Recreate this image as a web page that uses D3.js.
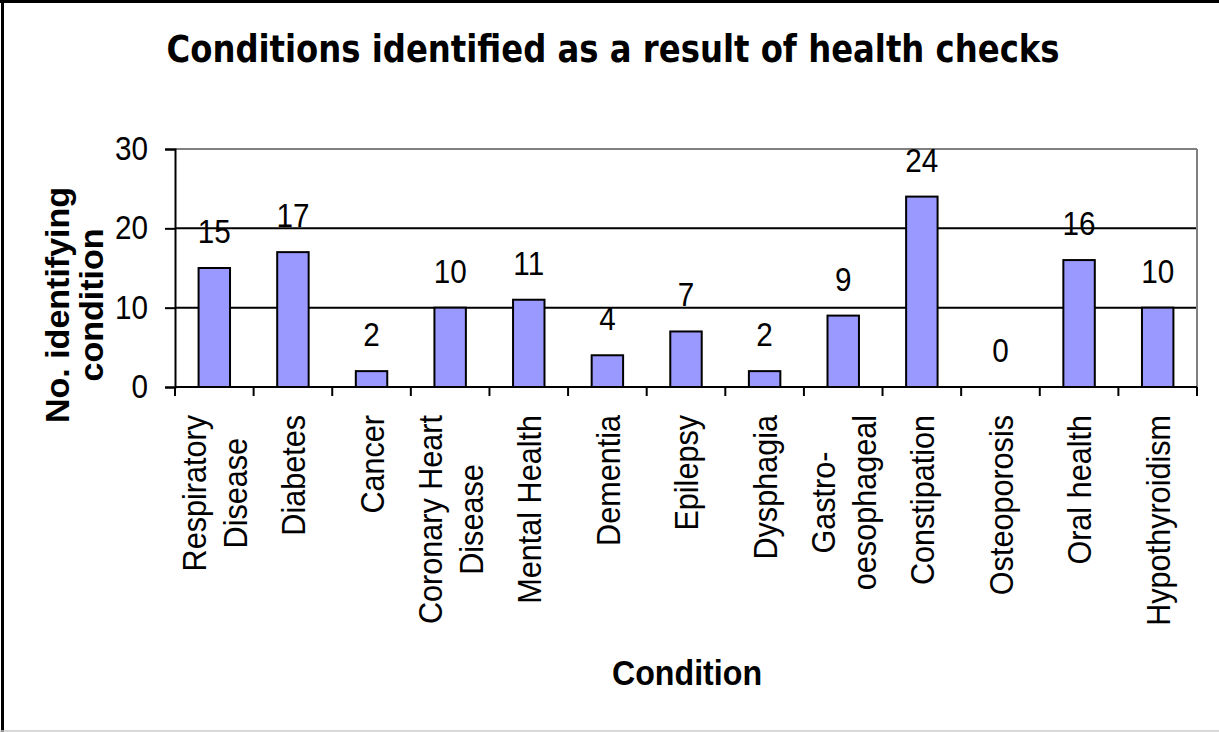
<!DOCTYPE html>
<html>
<head>
<meta charset="utf-8">
<script src="https://cdn.jsdelivr.net/npm/d3@7"></script>
<style>
  body { margin: 0; background: #fff; }
  svg { display: block; }
  text { font-family: "Liberation Sans", Arial, sans-serif; fill: #000; }
</style>
</head>
<body>
<svg id="chart" width="1219" height="732"></svg>
<script>
// health check conditions
var categories = ['Respiratory Disease', 'Diabetes', 'Cancer', 'Coronary Heart Disease',
  'Mental Health', 'Dementia', 'Epilepsy', 'Dysphagia', 'Gastro- oesophageal',
  'Constipation', 'Osteoporosis', 'Oral health', 'Hypothyroidism'];
var counts = [15, 17, 2, 10, 11, 4, 7, 2, 9, 24, 0, 16, 10];
// how the long names wrap under the axis
var labelLines = [['Respiratory', 'Disease'], ['Diabetes'], ['Cancer'], ['Coronary Heart', 'Disease'],
  ['Mental Health'], ['Dementia'], ['Epilepsy'], ['Dysphagia'], ['Gastro-', 'oesophageal'],
  ['Constipation'], ['Osteoporosis'], ['Oral health'], ['Hypothyroidism']];
var yTicks = [0, 10, 20, 30];

var svg = d3.select('#chart');

var plot = {left: 175, right: 1197, top: 149, bottom: 387};
var squeeze = 0.9; // excel font looks a bit narrower than liberation sans

var x = d3.scaleBand()
  .domain(categories)
  .range([plot.left, plot.right])
  .paddingInner(0.6)
  .paddingOuter(0.3);

var y = d3.scaleLinear()
  .domain([0, 30])
  .range([plot.bottom, plot.top]);

// outer frame (left + top black, bottom light grey)
svg.append('line').attr('x1', 2.5).attr('x2', 2.5).attr('y1', 0).attr('y2', 732)
  .attr('stroke', '#000').attr('stroke-width', 3);
svg.append('line').attr('x1', 0).attr('x2', 1219).attr('y1', 1.5).attr('y2', 1.5)
  .attr('stroke', '#000').attr('stroke-width', 3);
svg.append('line').attr('x1', 0).attr('x2', 1219).attr('y1', 731).attr('y2', 731)
  .attr('stroke', '#ccc').attr('stroke-width', 1.5);

// title
svg.append('text')
  .attr('x', 613).attr('y', 62)
  .attr('text-anchor', 'middle')
  .attr('font-size', '37px')
  .attr('font-weight', 'bold')
  .style('font-family', '"DejaVu Sans", sans-serif')
  .attr('textLength', 893)
  .attr('lengthAdjust', 'spacingAndGlyphs')
  .text('Conditions identified as a result of health checks');

// gridlines
svg.append('g').selectAll('line')
  .data(yTicks.filter(function(d) { return d > 0; }))
  .join('line')
  .attr('x1', plot.left).attr('x2', plot.right)
  .attr('y1', function(d) { return y(d); })
  .attr('y2', function(d) { return y(d); })
  .attr('stroke', function(d) { return d == 30 ? '#808080' : '#000'; })
  .attr('stroke-width', 2);

// right edge of plot area
svg.append('line')
  .attr('x1', plot.right).attr('x2', plot.right)
  .attr('y1', plot.top).attr('y2', plot.bottom)
  .attr('stroke', '#808080').attr('stroke-width', 2);

// bars
svg.append('g').selectAll('rect')
  .data(counts)
  .join('rect')
  .attr('x', function(d, i) { return x(categories[i]); })
  .attr('width', x.bandwidth())
  .attr('y', function(d) { return y(d); })
  .attr('height', function(d) { return y(0) - y(d); })
  .attr('fill', '#9999ff')
  .attr('stroke', '#000')
  .attr('stroke-width', 2);

// value labels
svg.append('g').selectAll('text')
  .data(counts)
  .join('text')
  .attr('transform', function(d, i) {
    return 'translate(' + (x(categories[i]) + x.bandwidth() / 2) + ',' + (y(d) - 25) + ') scale(' + squeeze + ',1)';
  })
  .attr('text-anchor', 'middle')
  .attr('font-size', '33px')
  .text(function(d) { return d; });

// y axis
var yAxis = svg.append('g')
  .attr('transform', 'translate(' + plot.left + ',0)')
  .call(d3.axisLeft(y).tickValues(yTicks).tickSize(10).tickPadding(17).tickFormat(d3.format('d')));
yAxis.select('.domain').attr('stroke', '#000').attr('stroke-width', 2);
yAxis.selectAll('.tick line').attr('stroke', '#000').attr('stroke-width', 2);
yAxis.selectAll('.tick text')
  .attr('font-size', '33px')
  .attr('x', -27 / squeeze)
  .attr('transform', 'scale(' + squeeze + ',1)')
  .style('font-family', '"Liberation Sans", Arial, sans-serif');

// x axis line + ticks at category boundaries
svg.append('line')
  .attr('x1', plot.left).attr('x2', plot.right)
  .attr('y1', plot.bottom).attr('y2', plot.bottom)
  .attr('stroke', '#000').attr('stroke-width', 2);

var bounds = categories.map(function(c) { return x(c) - x.step() * 0.3; });
bounds.push(plot.right);
svg.append('g').selectAll('line')
  .data(bounds)
  .join('line')
  .attr('x1', function(d) { return d; }).attr('x2', function(d) { return d; })
  .attr('y1', plot.bottom).attr('y2', plot.bottom + 9)
  .attr('stroke', '#000').attr('stroke-width', 2);

// category labels, rotated, top aligned, lines centred on each other
var lineGap = 41;
labelLines.forEach(function(lines, i) {
  var cx = x(categories[i]) + x.bandwidth() / 2;
  var g = svg.append('g').attr('transform', 'translate(' + cx + ',415) rotate(-90) scale(' + squeeze + ',1)');
  var t = g.selectAll('text')
    .data(lines)
    .join('text')
    .attr('y', function(d, j) { return (j - (lines.length - 1) / 2) * lineGap; })
    .attr('dy', '0.36em')
    .attr('font-size', '34px')
    .attr('text-anchor', 'middle')
    .text(function(d) { return d; });
  var maxLen = d3.max(t.nodes(), function(n) { return n.getComputedTextLength(); });
  t.attr('x', -maxLen / 2);
});

// axis titles
svg.append('text')
  .attr('transform', 'translate(687,685) scale(0.92,1)')
  .attr('text-anchor', 'middle')
  .attr('font-size', '35px')
  .attr('font-weight', 'bold')
  .text('Condition');

var yt = svg.append('g').attr('transform', 'translate(74,305) rotate(-90)');
yt.selectAll('text')
  .data(['No. identifying', 'condition'])
  .join('text')
  .attr('y', function(d, j) { return (j - 0.5) * 34; })
  .attr('dy', '0.36em')
  .attr('text-anchor', 'middle')
  .attr('font-size', '34px')
  .attr('font-weight', 'bold')
  .text(function(d) { return d; });
</script>
</body>
</html>
